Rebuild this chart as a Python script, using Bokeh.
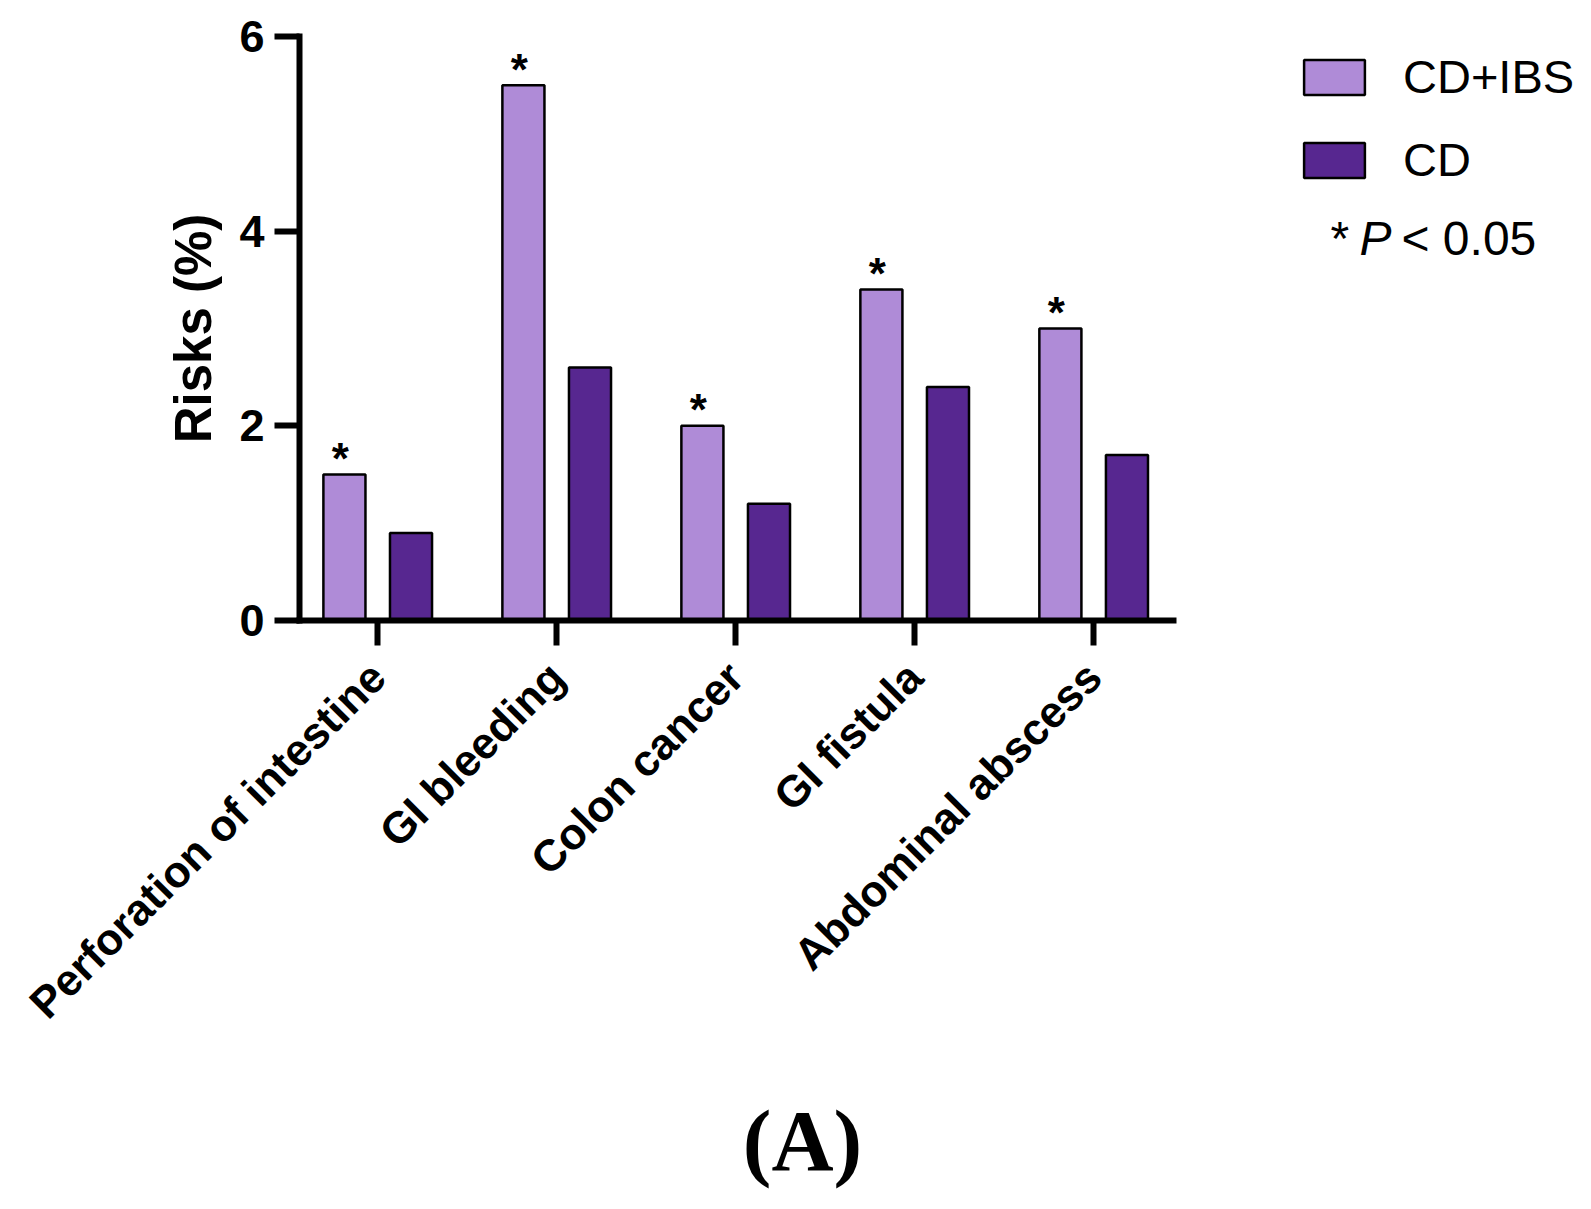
import math
from bokeh.plotting import figure
from bokeh.layouts import row
from bokeh.models import Range1d, FixedTicker, Label, Legend, LegendItem, ColumnDataSource
from bokeh.transform import dodge
from bokeh.core.properties import value
from bokeh.embed import file_html
from bokeh.resources import INLINE

# ---- data ----
categories = ["Perforation of intestine", "GI bleeding", "Colon cancer", "GI fistula", "Abdominal abscess"]
cd_ibs = [1.5, 5.5, 2.0, 3.4, 3.0]
cd = [0.9, 2.6, 1.2, 2.4, 1.7]
significant = ["*", "*", "*", "*", "*"]
series_names = ["CD+IBS", "CD"]
y_ticks = [0, 2, 4, 6]
y_label = "Risks (%)"
panel_tag = "(A)"

LIGHT = "#AF8BD7"
DARK = "#572790"
FONT = "Liberation Sans"

idx = list(range(len(categories)))
src = ColumnDataSource(dict(x=idx, a=cd_ibs, b=cd, star=significant, cat=categories))

H = 1193
PW = 1283
FRAME_TOP, FRAME_BOTTOM = 36, 620
p = figure(width=PW, height=H, output_backend="svg", toolbar_location=None,
           x_range=Range1d(-0.436, 4.447), y_range=Range1d(0, 6),
           min_border_left=299, min_border_right=PW - 1173,
           min_border_top=FRAME_TOP, min_border_bottom=H - FRAME_BOTTOM)
p.background_fill_color = "white"
p.border_fill_color = "white"
p.outline_line_color = None
p.xgrid.visible = False
p.ygrid.visible = False

OFF1, OFF2, BW = -0.185, 0.187, 0.235
bar_style1 = dict(fill_color=LIGHT, line_color="black", line_width=2.5)
bar_style2 = dict(fill_color=DARK, line_color="black", line_width=2.5)
r1 = p.vbar(x=dodge("x", OFF1, range=p.x_range), top="a", width=BW, bottom=0, source=src, **bar_style1)
r2 = p.vbar(x=dodge("x", OFF2, range=p.x_range), top="b", width=BW, bottom=0, source=src, **bar_style2)

p.text(x=dodge("x", OFF1, range=p.x_range), y="a", text="star", source=src,
       text_align="center", text_baseline="alphabetic", x_offset=-4, y_offset=-16,
       text_font=value(FONT), text_font_style="bold", text_font_size="44px", text_color="black")

for ax in (p.xaxis[0], p.yaxis[0]):
    ax.axis_line_width = 6
    ax.axis_line_color = "black"
    ax.axis_line_cap = "square"
    ax.major_tick_line_width = 6
    ax.major_tick_line_color = "black"
    ax.major_tick_in = 0
    ax.major_tick_out = 25
    ax.minor_tick_line_color = None
    ax.major_label_text_font = FONT
    ax.major_label_text_font_style = "bold"
    ax.major_label_text_color = "black"

yax = p.yaxis[0]
yax.ticker = FixedTicker(ticks=y_ticks)
yax.major_label_text_font_size = "45px"
yax.major_label_standoff = 10
yax.axis_label = y_label
yax.axis_label_text_font = FONT
yax.axis_label_text_font_style = "bold"
yax.axis_label_text_font_size = "51px"
yax.axis_label_text_color = "black"
yax.axis_label_standoff = 14

xax = p.xaxis[0]
xax.ticker = FixedTicker(ticks=idx)
xax.major_label_overrides = {i: c for i, c in zip(idx, categories)}
xax.major_label_orientation = math.pi / 4
xax.major_label_text_font_size = "44px"
xax.major_label_standoff = 24

def dx(px):
    return (px - 377) / 179.0

def dy(py):
    return (620 - py) / 97.33

# panel tag below the axis labels (side-panel labels are centred vertically)
p.add_layout(Label(x=dx(802), y=dy(1140), text=panel_tag, text_font="Liberation Serif",
                   text_font_size="86px", text_font_style="bold", text_color="black",
                   text_align="center", text_baseline="middle"), "below")

# ---- legend panel (frame is aligned with the main plot's frame: y 36..620) ----
QW = 1575 - PW
q = figure(width=QW, height=H, output_backend="svg", toolbar_location=None,
           x_range=Range1d(-3, -2), y_range=Range1d(-3, -2),
           x_axis_location=None, y_axis_location=None, min_border=0)
q.outline_line_color = None
q.background_fill_color = "white"
q.border_fill_color = "white"
q.grid.visible = False
# same series in this panel (hidden) so the legend swatches can use their styles
k1 = q.vbar(x=dodge("x", OFF1), top="a", width=BW, source=src, visible=False, **bar_style1)
k2 = q.vbar(x=dodge("x", OFF2), top="b", width=BW, source=src, visible=False, **bar_style2)

legend = Legend(items=[LegendItem(label=series_names[0], renderers=[k1]),
                       LegendItem(label=series_names[1], renderers=[k2])],
                location="top_left", glyph_width=76, glyph_height=44,
                label_text_font=FONT, label_text_font_size="47px", label_text_color="black",
                label_standoff=31, spacing=28, padding=0, margin=13,
                inactive_fill_alpha=0,
                border_line_color=None, background_fill_alpha=0)
q.add_layout(legend)

for txt, xpx, style in [("*", 1330, "normal"), ("P", 1359, "italic"), ("< 0.05", 1401, "normal")]:
    q.add_layout(Label(x=xpx - PW, y=FRAME_BOTTOM - 255 + 17, x_units="screen", y_units="screen",
                       text=txt, text_font=FONT, text_font_size="48px", text_font_style=style,
                       text_color="black", text_align="left", text_baseline="alphabetic"))

layout = row(p, q, spacing=0)
open("out.html", "w").write(file_html(layout, INLINE))
